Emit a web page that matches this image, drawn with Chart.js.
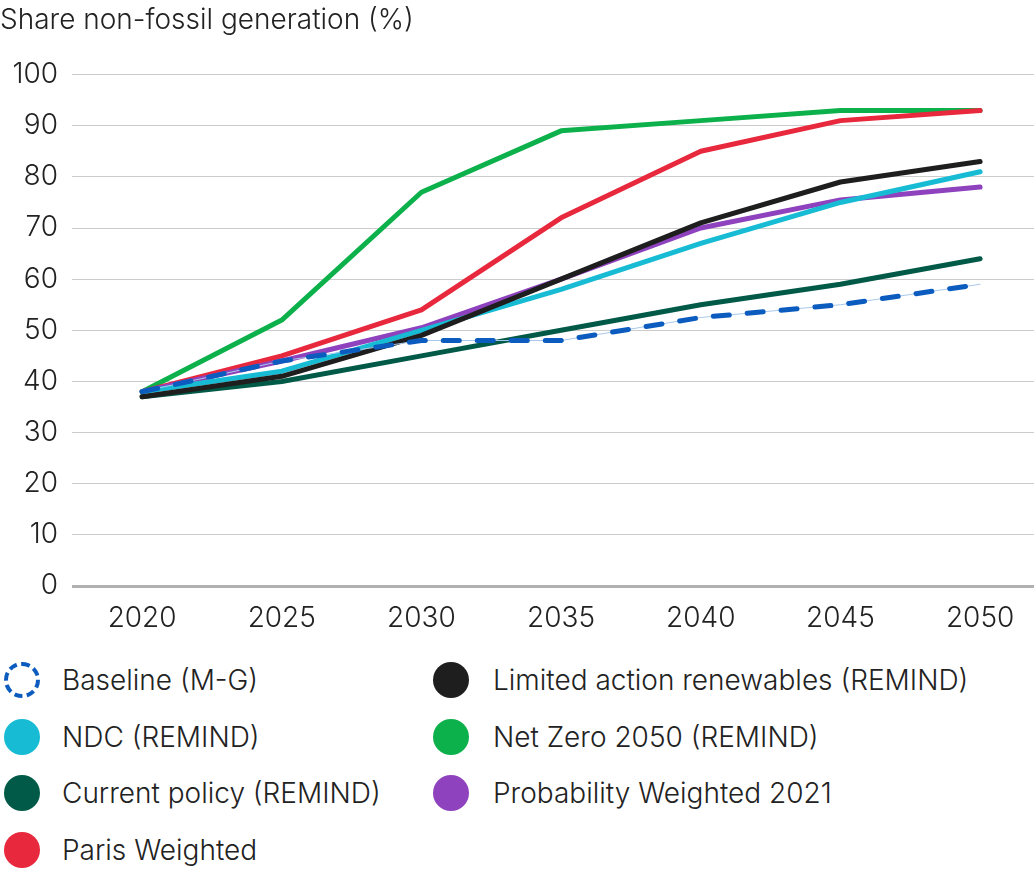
<!DOCTYPE html>
<html>
<head>
<meta charset="utf-8">
<script src="https://cdn.jsdelivr.net/npm/chart.js@4.4.1/dist/chart.umd.min.js"></script>
<style>
  html, body { margin: 0; padding: 0; background: #ffffff; }
  body { width: 1034px; height: 873px; position: relative; overflow: hidden; font-family: Inter, "Noto Sans", sans-serif; color: #222; }
  #wrap { position: absolute; left: 0; top: 0; width: 1034px; height: 640px; }
  .leg { position: absolute; display: flex; align-items: center; font-size: 28px; color: #222; white-space: nowrap; }
  .dot { width: 36px; height: 36px; border-radius: 50%; box-sizing: border-box; flex: none; }
</style>
</head>
<body>
<div id="wrap"><canvas id="c" width="1034" height="640"></canvas></div>
<div id="legend"></div>
<script>
const titleText = "Share non-fossil generation (%)";
const years = [2020, 2025, 2030, 2035, 2040, 2045, 2050];
const yTicks = [0, 10, 20, 30, 40, 50, 60, 70, 80, 90, 100];

const seriesNames = [
  "Baseline (M-G)",
  "NDC (REMIND)",
  "Current policy (REMIND)",
  "Paris Weighted",
  "Limited action renewables (REMIND)",
  "Net Zero 2050 (REMIND)",
  "Probability Weighted 2021"
];
const baseline      = [38, 44, 48, 48, 52.5, 55, 59];
const ndc           = [38, 42, 50, 58, 67, 75, 81];
const currentPolicy = [37, 40, 45, 50, 55, 59, 64];
const parisWeighted = [38, 45, 54, 72, 85, 91, 93];
const limitedAction = [37, 41, 49, 60, 71, 79, 83];
const netZero       = [38, 52, 77, 89, 91, 93, 93];
const probWeighted  = [38, 44, 50.5, 60, 70, 75.5, 78];

const seriesColors = ["#0b5cbe", "#17bcd4", "#005a47", "#e8283c", "#1e1e1e", "#0db14b", "#8e42bd"];

function pts(vals) { return years.map((yr, i) => ({ x: yr, y: vals[i] })); }

// drawing order: datasets earlier in list are drawn on top
const datasets = [
  { label: seriesNames[0], data: pts(baseline), borderColor: seriesColors[0], borderWidth: 5, borderDash: [16, 18], borderCapStyle: 'round' },
  { label: "_guide", data: pts(baseline), borderColor: "#a9c8ea", borderWidth: 1 },
  { label: seriesNames[4], data: pts(limitedAction), borderColor: seriesColors[4], borderWidth: 5 },
  { label: seriesNames[1], data: pts(ndc), borderColor: seriesColors[1], borderWidth: 5 },
  { label: seriesNames[6], data: pts(probWeighted), borderColor: seriesColors[6], borderWidth: 5 },
  { label: seriesNames[3], data: pts(parisWeighted), borderColor: seriesColors[3], borderWidth: 5 },
  { label: seriesNames[2], data: pts(currentPolicy), borderColor: seriesColors[2], borderWidth: 5 },
  { label: seriesNames[5], data: pts(netZero), borderColor: seriesColors[5], borderWidth: 5 }
];
datasets.forEach(d => { d.pointRadius = 0; d.fill = false; d.tension = 0; d.borderJoinStyle = 'round'; if (!d.borderCapStyle) d.borderCapStyle = 'round'; });

const FONT = { family: "Inter, 'Noto Sans', sans-serif", size: 28, weight: 300 };

new Chart(document.getElementById('c'), {
  type: 'line',
  data: { datasets },
  options: {
    responsive: false,
    animation: false,
    events: [],
    layout: { padding: { left: 0, right: 0, top: 0, bottom: 0 } },
    plugins: {
      legend: { display: false },
      tooltip: { enabled: false },
      title: {
        display: true, text: titleText, align: 'start', color: '#222',
        font: FONT, padding: { top: 4, bottom: 37 }
      }
    },
    scales: {
      x: {
        type: 'linear', min: 2017.49, max: 2051.93,
        afterBuildTicks: s => { s.ticks = years.map(v => ({ value: v })); },
        afterFit: s => { s.height = 54; },
        grid: { display: false, drawTicks: false },
        border: { display: false },
        ticks: { color: '#222', font: FONT, padding: 16, callback: v => String(v), maxRotation: 0, autoSkip: false }
      },
      y: {
        type: 'linear', min: 0, max: 100,
        afterBuildTicks: s => { s.ticks = yTicks.map(v => ({ value: v })); },
        afterFit: s => { s.width = 72; },
        grid: {
          drawTicks: false,
          color: ctx => ctx.tick && ctx.tick.value === 0 ? '#b0b0b0' : '#cccccc',
          lineWidth: ctx => ctx.tick && ctx.tick.value === 0 ? 3 : 1
        },
        border: { display: false },
        ticks: { color: '#222', font: FONT, padding: 14 }
      }
    }
  }
});

// legend (column-major, two columns)
const legendOrder = [0, 1, 2, 3, 4, 5, 6];
const colX = [[4, 62], [433, 493]];
const rowY = [680, 737, 793, 850];
const legend = document.getElementById('legend');
legendOrder.forEach((si, k) => {
  const col = k < 4 ? 0 : 1;
  const row = k < 4 ? k : k - 4;
  const item = document.createElement('div');
  item.className = 'leg';
  item.style.left = colX[col][0] + 'px';
  item.style.top = (rowY[row] - 18) + 'px';
  item.style.height = '36px';
  const dot = document.createElement('div');
  dot.className = 'dot';
  if (si === 0) {
    dot.style.border = '4px dashed ' + seriesColors[0];
  } else {
    dot.style.background = seriesColors[si];
  }
  const txt = document.createElement('span');
  txt.textContent = seriesNames[si];
  txt.style.marginLeft = (colX[col][1] - colX[col][0] - 36) + 'px';
  txt.style.fontWeight = '300';
  item.appendChild(dot);
  item.appendChild(txt);
  legend.appendChild(item);
});
</script>
</body>
</html>
